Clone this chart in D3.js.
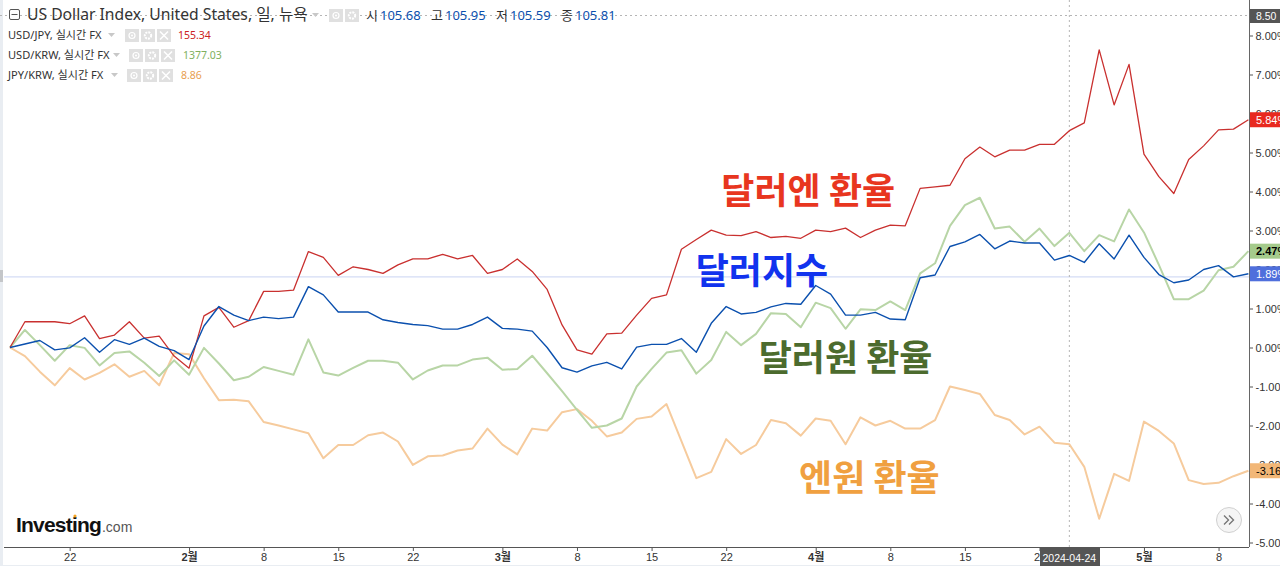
<!DOCTYPE html>
<html>
<head>
<meta charset="utf-8">
<script src="https://cdn.jsdelivr.net/npm/d3@7"></script>
<style>
    html, body { margin: 0; padding: 0; background: #fff; overflow: hidden; }
    text { font-family: "Liberation Sans", "Noto Sans CJK KR", sans-serif; }
    .legend { font-family: "Noto Sans", "Noto Sans CJK KR", sans-serif; }
    .note { font-family: "Noto Sans CJK KR", sans-serif; font-weight: 700; }
</style>
</head>
<body>
<svg id="chart" width="1280" height="566"></svg>
<script>
// percent change since the first session
let dollarIndex = [0, .09, .18, -.06, -.01, .25, -.12, .20, .08, .24, .03, -.08, -.31, .55, 1.05, .83, .69, .78, .74, .78, 1.56,
    1.35, .91, .91, .91, .71, .64, .59, .56, .47, .47, .59, .78, .49, .47, .42, 0, -.52, -.63, -.47, -.38, -.55, .01,
    .08, .08, .23, -.12, .62, 1.05, .86, .90, 1.04, 1.13, 1.11, 1.59, 1.37, .83, .83, .90, .73, .71, 1.79, 1.86, 2.59,
    2.71, 2.90, 2.53, 2.73, 2.68, 2.68, 2.24, 2.36, 2.18, 2.66, 2.27, 2.88, 2.31, 1.87, 1.66, 1.73, 2.00, 2.10, 1.81, 1.89]
let usdJpy = [0, .66, .66, .66, .61, .81, .23, .32, .66, .24, .29, -.22, -.53, .81, 1.03, .52, .69, 1.44, 1.44, 1.47, 2.46,
    2.31, 1.85, 2.07, 2.00, 1.90, 2.12, 2.27, 2.27, 2.39, 2.27, 2.36, 1.90, 2.00, 2.27, 1.95, 1.49, .58, -.06, -.17, .35, .37, .83,
    1.26, 1.35, 2.52, 2.77, 3.01, 2.88, 2.87, 2.97, 2.82, 2.85, 2.80, 3.01, 2.97, 3.06, 2.82, 3.01, 3.14, 3.12, 4.08, 4.12, 4.16,
    4.84, 5.14, 4.89, 5.06, 5.06, 5.21, 5.21, 5.56, 5.76, 7.63, 6.22, 7.26, 4.96, 4.38, 3.95, 4.82, 5.17, 5.58, 5.60, 5.84]
let usdKrw = [0, .45, .06, -.34, .06, -.01, -.46, -.14, -.10, -.39, -.73, -.33, -.70, -.01, -.41, -.84, -.75, -.50, -.60, -.70, .21,
    -.64, -.72, -.52, -.34, -.34, -.39, -.82, -.59, -.46, -.46, -.31, -.26, -.57, -.55, -.21, -.66, -1.12, -1.60, -2.06, -2.00, -1.82, -1.00,
    -.55, -.13, -.07, -.67, -.32, .40, .06, .35, .88, .86, .52, 1.15, 1.01, .48, .98, .96, 1.18, .96, 1.90, 2.16, 3.12,
    3.65, 3.84, 3.05, 3.10, 2.71, 3.05, 2.60, 2.94, 2.47, 2.88, 2.72, 3.54, 2.95, 2.12, 1.24, 1.24, 1.46, 1.98, 2.07, 2.47]
let jpyKrw = [0, -.22, -.62, -.97, -.53, -.82, -.65, -.43, -.75, -.60, -.97, -.14, -.17, -.79, -1.35, -1.34, -1.38, -1.91, -2.00, -2.10, -2.20,
    -2.84, -2.50, -2.50, -2.25, -2.18, -2.41, -3.01, -2.79, -2.77, -2.64, -2.59, -2.08, -2.49, -2.74, -2.08, -2.13, -1.66, -1.58, -1.88, -2.28, -2.18, -1.83,
    -1.77, -1.45, -2.40, -3.35, -3.19, -2.35, -2.73, -2.50, -1.86, -1.94, -2.26, -1.82, -1.88, -2.48, -1.79, -2.00, -1.88, -2.08, -2.08, -1.86, -1.00,
    -1.09, -1.19, -1.73, -1.86, -2.23, -2.03, -2.44, -2.48, -3.06, -4.39, -3.24, -3.42, -1.90, -2.14, -2.46, -3.40, -3.50, -3.47, -3.30, -3.16]

let xTickIndex = [4, 12, 17, 22, 27, 33, 38, 43, 48, 54, 59, 64, 69, 76, 81]
let xTickLabels = ['22', '2월', '8', '15', '22', '3월', '8', '15', '22', '4월', '8', '15', '22', '5월', '8']
let yTicks = [8, 7, 6, 5, 4, 3, 2, 1, 0, -1, -2, -3, -4, -5]

let seriesNames = ['JPY/KRW', 'USD/KRW', 'USD/JPY', 'Dollar Index']
let seriesValues = [jpyKrw, usdKrw, usdJpy, dollarIndex]
let seriesColors = ['#f6cb9d', '#b8d5a6', '#c9302f', '#0b50ae']
let seriesWidths = [2, 2, 1.3, 1.4]

let crosshairIndex = 71
let crosshairDate = '2024-04-24'
let crosshairPrice = '8.50'
let guideValue = 1.81

let svg = d3.select('#chart')
let plotLeft = 4, plotRight = 1249, plotBottom = 547

let x = d3.scaleLinear().domain([0, 83]).range([10, 1248.4])
let y = d3.scaleLinear().domain([0, 8]).range([347.5, 35.5])

// page edges
svg.append('rect').attr('width', 1280).attr('height', 566).attr('fill', '#fff')
svg.append('rect').attr('width', 3).attr('height', 566).attr('fill', '#e9edf2')
svg.append('rect').attr('y', 565).attr('width', 1280).attr('height', 1).attr('fill', '#e9edf2')
svg.append('rect').attr('x', 0).attr('y', 270).attr('width', 3).attr('height', 12).attr('fill', '#c4c6c9')

// guide line and crosshair
svg.append('line').attr('x1', plotLeft).attr('x2', plotRight).attr('y1', y(guideValue)).attr('y2', y(guideValue))
    .attr('stroke', '#c9d3f2').attr('stroke-width', 1)
svg.append('line').attr('x1', 0).attr('x2', plotRight).attr('y1', 15.5).attr('y2', 15.5)
    .attr('stroke', '#b5b5b5').attr('stroke-dasharray', '2,3')
svg.append('line').attr('x1', x(crosshairIndex)).attr('x2', x(crosshairIndex)).attr('y1', 0).attr('y2', plotBottom)
    .attr('stroke', '#b5b5b5').attr('stroke-dasharray', '2,3')

let line = d3.line()
    .x((d, i) => x(i))
    .y(d => y(d))

svg.append('g')
    .selectAll('path')
    .data(seriesValues)
    .enter()
    .append('path')
    .attr('class', (d, i) => 'series ' + seriesNames[i])
    .attr('d', line)
    .attr('fill', 'none')
    .attr('stroke', (d, i) => seriesColors[i])
    .attr('stroke-width', (d, i) => seriesWidths[i])
    .attr('stroke-linejoin', 'round')

// axes
let axisX = d3.axisBottom(x)
    .tickValues(xTickIndex)
    .tickFormat((d, i) => xTickLabels[i])
    .tickSize(4)
    .tickSizeOuter(0)
let gx = svg.append('g')
    .attr('transform', `translate(0, ${plotBottom})`)
    .call(axisX)
gx.selectAll('text').attr('font-size', 11).attr('fill', '#333').attr('dy', '0.62em')
    .attr('font-weight', (d, i) => /월/.test(xTickLabels[i]) ? 'bold' : 'normal')
gx.selectAll('line').attr('stroke', '#555')
gx.select('.domain').remove()
svg.append('line').attr('x1', plotLeft).attr('x2', plotRight).attr('y1', plotBottom + .5).attr('y2', plotBottom + .5)
    .attr('stroke', '#555').attr('stroke-width', 1)

let axisY = d3.axisRight(y)
    .tickValues(yTicks)
    .tickFormat(d => d.toFixed(2) + (d < 0 ? '' : '%'))
    .tickSize(4)
    .tickSizeOuter(0)
let gy = svg.append('g')
    .attr('transform', `translate(${plotRight}, 0)`)
    .call(axisY)
gy.selectAll('text').attr('font-size', 11).attr('fill', '#333').attr('x', 6.5)
gy.selectAll('line').attr('stroke', '#555')
gy.select('.domain').remove()
svg.append('line').attr('x1', plotRight + .5).attr('x2', plotRight + .5).attr('y1', 0).attr('y2', plotBottom)
    .attr('stroke', '#666').attr('stroke-width', 1)

// price labels on the right axis
let priceValues = [usdJpy[83], usdKrw[83], dollarIndex[83], jpyKrw[83]]
let priceFills = ['#e8291f', '#a5cb8c', '#4f6fdc', '#f2b777']
let priceText = ['#fff', '#000', '#fff', '#000']
let priceWeight = ['normal', 'bold', 'normal', 'normal']
let priceLabels = priceValues.map(d => d.toFixed(2) + (d < 0 ? '' : '%'))

let tags = svg.append('g')
    .selectAll('g')
    .data(priceValues)
    .enter()
    .append('g')
    .attr('transform', d => `translate(${plotRight + 1}, ${y(d)})`)
tags.append('rect')
    .attr('y', -7.5)
    .attr('width', 32)
    .attr('height', 15)
    .attr('fill', (d, i) => priceFills[i])
tags.append('text')
    .attr('x', 6)
    .attr('dy', '0.36em')
    .attr('font-size', 11)
    .attr('font-weight', (d, i) => priceWeight[i])
    .attr('fill', (d, i) => priceText[i])
    .text((d, i) => priceLabels[i])

svg.append('rect').attr('x', plotRight + 1).attr('y', 9).attr('width', 32).attr('height', 14).attr('fill', '#555')
svg.append('text').attr('x', plotRight + 7).attr('y', 20).attr('font-size', 10.5).attr('fill', '#fff').text(crosshairPrice)

svg.append('rect').attr('x', 1040).attr('y', plotBottom).attr('width', 60).attr('height', 19).attr('fill', '#555')
svg.append('text').attr('x', x(crosshairIndex)).attr('y', 562).attr('text-anchor', 'middle')
    .attr('font-size', 10.5).attr('fill', '#fff').text(crosshairDate)

// legend
function drawIcons(left, rowY, count) {
    for (let i = 0; i < count; i++) {
        let cx = left + i * 16 + 7
        svg.append('rect').attr('x', cx - 7).attr('y', rowY - 6).attr('width', 14).attr('height', 13).attr('fill', '#e0e0e0')
        if (i == 0) {
            svg.append('circle').attr('cx', cx).attr('cy', rowY + .5).attr('r', 3)
                .attr('fill', 'none').attr('stroke', '#fff').attr('stroke-width', 1.2)
            svg.append('circle').attr('cx', cx).attr('cy', rowY + .5).attr('r', 1).attr('fill', '#fff')
        } else if (i == 1) {
            svg.append('circle').attr('cx', cx).attr('cy', rowY + .5).attr('r', 3.2)
                .attr('fill', 'none').attr('stroke', '#fff').attr('stroke-width', 2).attr('stroke-dasharray', '2,1')
        } else {
            svg.append('path').attr('d', `M${cx - 4},${rowY - 3.5}l8,8m0,-8l-8,8`).attr('stroke', '#fff').attr('stroke-width', 1.5)
        }
    }
}
function drawArrow(left, rowY) {
    svg.append('path').attr('d', `M${left},${rowY - 2}h7l-3.5,4z`).attr('fill', '#c8c8c8')
}

svg.append('rect').attr('x', 9.5).attr('y', 9.5).attr('width', 10).attr('height', 10).attr('rx', 1.5)
    .attr('fill', '#fff').attr('stroke', '#555')
svg.append('line').attr('x1', 11.5).attr('x2', 17.5).attr('y1', 14.5).attr('y2', 14.5).attr('stroke', '#555')
svg.append('text').attr('class', 'legend').attr('x', 27).attr('y', 20).attr('font-size', 15.7).attr('fill', '#333')
    .text('US Dollar Index, United States, 일, 뉴욕')
drawArrow(312, 15)
drawIcons(329, 15, 2)

let ohlcNames = ['시', '고', '저', '종']
let ohlcValues = ['105.68', '105.95', '105.59', '105.81']
let ohlcLeft = [366, 431, 496, 561]
ohlcNames.forEach((d, i) => {
    svg.append('text').attr('class', 'legend').attr('x', ohlcLeft[i]).attr('y', 20).attr('font-size', 13).attr('fill', '#333').text(d)
    svg.append('text').attr('class', 'legend').attr('x', ohlcLeft[i] + 14).attr('y', 20).attr('font-size', 13).attr('fill', '#0b50ae').text(ohlcValues[i])
})

let legendNames = ['USD/JPY, 실시간 FX', 'USD/KRW, 실시간 FX', 'JPY/KRW, 실시간 FX']
let legendValues = ['155.34', '1377.03', '8.86']
let legendColors = ['#cc2222', '#7fb060', '#e8a050']
let legendArrow = [108, 113, 111]
let legendIcons = [125, 129, 127]
let legendValueX = [178, 183, 181]
legendNames.forEach((d, i) => {
    let rowY = 35 + i * 20
    svg.append('text').attr('class', 'legend').attr('x', 8).attr('y', rowY + 4).attr('font-size', 11.1).attr('fill', '#333').text(d)
    drawArrow(legendArrow[i], rowY)
    drawIcons(legendIcons[i], rowY, 3)
    svg.append('text').attr('class', 'legend').attr('x', legendValueX[i]).attr('y', rowY + 4).attr('font-size', 10.5).attr('fill', legendColors[i]).text(legendValues[i])
})

// hand written notes on the picture
let noteTexts = ['달러엔 환율', '달러지수', '달러원 환율', '엔원 환율']
let noteColors = ['#e8361f', '#1133ee', '#4c6b2e', '#f0a040']
let noteIndex = [53.5, 50.4, 56, 57.6]
let noteValues = [4.0, 1.95, -.27, -3.35]
svg.append('g')
    .selectAll('text')
    .data(noteTexts)
    .enter()
    .append('text')
    .attr('class', 'note')
    .attr('x', (d, i) => x(noteIndex[i]))
    .attr('y', (d, i) => y(noteValues[i]))
    .attr('text-anchor', 'middle')
    .attr('dy', '0.36em')
    .attr('font-size', 36)
    .attr('fill', (d, i) => noteColors[i])
    .text(d => d)

// logo
let logo = svg.append('text').attr('x', 16).attr('y', 532)
logo.append('tspan').attr('font-size', 21).attr('font-weight', 'bold').attr('letter-spacing', -.8).attr('fill', '#111').text('Investing')
logo.append('tspan').attr('font-size', 14).attr('fill', '#555').attr('dx', 1).text('.com')
svg.append('circle').attr('cx', 75).attr('cy', 516).attr('r', 1.6).attr('fill', '#f5a623')

// scroll button
svg.append('circle').attr('cx', 1229).attr('cy', 520).attr('r', 12.5).attr('fill', '#f5f5f5').attr('stroke', '#d0d0d0')
svg.append('path').attr('d', 'M1224,515.5l4.5,4.5l-4.5,4.5M1229,515.5l4.5,4.5l-4.5,4.5')
    .attr('fill', 'none').attr('stroke', '#777').attr('stroke-width', 1.4)
</script>
</body>
</html>
